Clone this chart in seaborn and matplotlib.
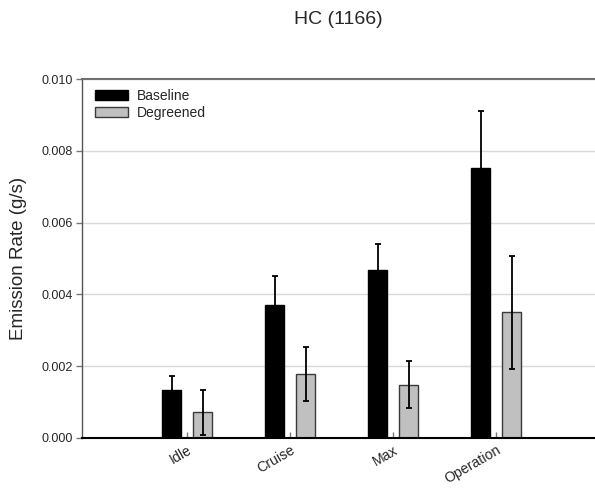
import matplotlib
matplotlib.use("Agg")
import matplotlib.pyplot as plt
import pandas as pd
import seaborn as sns
from matplotlib.patches import Patch

# Emission rates per operating mode (g/s) with error half-widths
modes = ["Idle", "Cruise", "Max", "Operation"]
groups = ["Baseline", "Degreened"]
baseline_rate = [0.00134, 0.00370, 0.00467, 0.00753]
baseline_err = [0.00039, 0.00080, 0.00074, 0.00158]
degreened_rate = [0.00071, 0.00179, 0.00149, 0.00350]
degreened_err = [0.00063, 0.00075, 0.00066, 0.00158]
y_ticks = [0.000, 0.002, 0.004, 0.006, 0.008, 0.010]
y_tick_labels = ["0.000", "0.002", "0.004", "0.006", "0.008", "0.010"]

df = pd.DataFrame({
    "mode": modes * 2,
    "group": [groups[0]] * len(modes) + [groups[1]] * len(modes),
    "rate": baseline_rate + degreened_rate,
})

sns.set_style("white")
plt.rcParams["font.family"] = ["Liberation Sans", "DejaVu Sans"]

fig = plt.figure(figsize=(5.95, 4.88), dpi=100)
ax = fig.add_axes([0.138, 0.1025, 0.862, 0.7355])

fill_colors = ["#000000", "#c0c0c0"]
edge_colors = ["#000000", "#3a3a3a"]

sns.barplot(data=df, x="mode", y="rate", hue="group", order=modes,
            hue_order=groups, palette=fill_colors, width=0.6, gap=0.387,
            errorbar=None, legend=False, ax=ax, zorder=2)

for cont, ec in zip(ax.containers, edge_colors):
    for bar in cont:
        bar.set_edgecolor(ec)
        bar.set_linewidth(1.0)

for cont, vals, errs in zip(ax.containers,
                            [baseline_rate, degreened_rate],
                            [baseline_err, degreened_err]):
    xs = [b.get_x() + b.get_width() / 2 for b in cont]
    ax.errorbar(xs, vals, yerr=errs, fmt="none", ecolor="black",
                elinewidth=1.3, capsize=2.5, capthick=1.3, zorder=3)

ax.set_xlim(-1.02, 3.96)
ax.set_ylim(0, 0.010)
ax.set_yticks(y_ticks)
ax.set_yticklabels(y_tick_labels, fontsize=9)
ax.set_xticks(range(len(modes)))
ax.set_xticklabels(modes, fontsize=10.2, rotation=30, ha="right",
                   rotation_mode="anchor")

ax.yaxis.grid(True, color="#d9d9d9", linewidth=1.0)
ax.xaxis.grid(False)
ax.set_axisbelow(True)

ax.tick_params(axis="y", direction="out", length=4, width=1,
               color="#777777", pad=3, left=True)
ax.tick_params(axis="x", direction="in", length=4, width=1,
               color="#777777", pad=3.5, bottom=True)

ax.spines["right"].set_visible(False)
ax.spines["top"].set_color("#707070")
ax.spines["top"].set_linewidth(1.5)
ax.spines["left"].set_color("#555555")
ax.spines["left"].set_linewidth(1.0)
ax.spines["bottom"].set_color("#000000")
ax.spines["bottom"].set_linewidth(1.5)

ax.set_xlabel("")
ax.set_ylabel("Emission Rate (g/s)", fontsize=13.5)
ax.yaxis.set_label_coords(-0.108, 0.5)
ax.set_title("HC (1166)", fontsize=14, pad=40)

handles = [Patch(facecolor=fill_colors[0], edgecolor=edge_colors[0]),
           Patch(facecolor=fill_colors[1], edgecolor=edge_colors[1])]
ax.legend(handles, groups, loc="upper left", bbox_to_anchor=(0.006, 1.0),
          frameon=False, fontsize=10, handlelength=2.4, handleheight=0.75,
          handletextpad=0.65, labelspacing=0.25, borderaxespad=0.3,
          borderpad=0.4)

fig.savefig("out.png", dpi=100)
